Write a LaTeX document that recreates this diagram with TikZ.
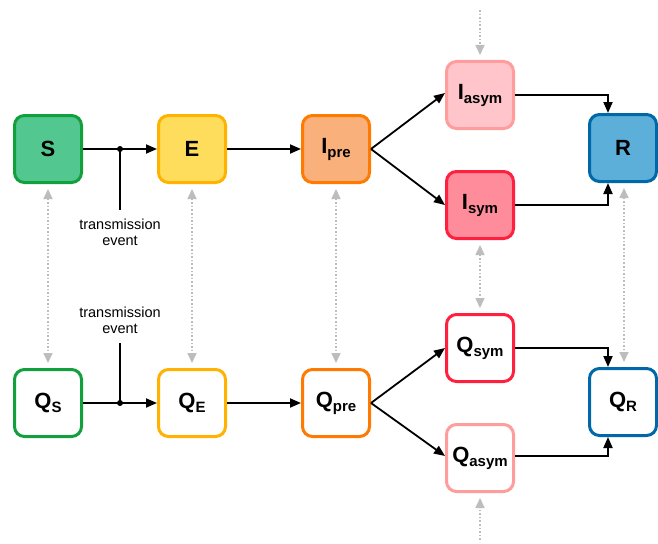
\documentclass[tikz,border=0pt]{standalone}
\usepackage{fontspec}
\setmainfont{Liberation Sans}
\usetikzlibrary{arrows.meta}
\definecolor{sfill}{HTML}{52C890}
\definecolor{sline}{HTML}{12A03C}
\definecolor{efill}{HTML}{FFDD5C}
\definecolor{eline}{HTML}{FFB300}
\definecolor{pfill}{HTML}{F9B07A}
\definecolor{pline}{HTML}{FF7A00}
\definecolor{afill}{HTML}{FFC5CA}
\definecolor{aline}{HTML}{FF9C9C}
\definecolor{yfill}{HTML}{FF8C9A}
\definecolor{yline}{HTML}{FF2040}
\definecolor{rfill}{HTML}{5BAFD9}
\definecolor{rline}{HTML}{0068A8}
\definecolor{dgray}{HTML}{BDBDBD}
\newcommand{\sub}[1]{\raisebox{-4pt}{\fontsize{15}{15}\selectfont #1}}
\tikzset{
  box/.style={draw, rounded corners=10pt, line width=3pt, minimum width=67pt, minimum height=67pt, inner sep=0pt, font=\fontsize{22}{22}\selectfont\bfseries},
  flow/.style={draw=black, line width=1.8pt, -{Triangle[length=11pt,width=9pt]}},
  plain/.style={draw=black, line width=1.8pt},
  swap/.style={draw=dgray, line width=1.6pt, dotted, {Triangle[length=10pt,width=9pt]}-{Triangle[length=10pt,width=9pt]}, shorten >=5pt, shorten <=5pt},
  oneway/.style={draw=dgray, line width=1.6pt, dotted, -{Triangle[length=10pt,width=9pt]}, shorten >=5pt},
  lbl/.style={font=\fontsize{14.5}{16}\selectfont, align=center}
}
\begin{document}
\begin{tikzpicture}[x=1pt,y=-1pt]
\useasboundingbox (0,0) rectangle (658,543);
\fill[white] (0,0) rectangle (658,543);
% top row
\node[box, draw=sline, fill=sfill] (S) at (48,149) {S};
\node[box, draw=eline, fill=efill] (E) at (192,149) {E};
\node[box, draw=pline, fill=pfill] (Ip) at (336,149) {I\sub{pre}};
\node[box, draw=aline, fill=afill] (Ia) at (480,95) {I\sub{asym}};
\node[box, draw=yline, fill=yfill] (Is) at (480,205) {I\sub{sym}};
\node[box, draw=rline, fill=rfill] (R) at (623,148) {R};
% bottom row
\node[box, draw=sline, fill=white] (QS) at (48,403) {Q\sub{S}};
\node[box, draw=eline, fill=white] (QE) at (192,403) {Q\sub{E}};
\node[box, draw=pline, fill=white] (Qp) at (336,403) {Q\sub{pre}};
\node[box, draw=yline, fill=white] (Qs) at (480,348) {Q\sub{sym}};
\node[box, draw=aline, fill=white] (Qa) at (480,458) {Q\sub{asym}};
\node[box, draw=rline, fill=white] (QR) at (623,402) {Q\sub{R}};
% transmission events
\coordinate (j1) at (120,149);
\coordinate (j1e) at (120,210);
\node[lbl] (t1) at (120,232) {transmission\\event};
\coordinate (j2) at (120,403);
\coordinate (j2e) at (120,343);
\node[lbl] (t2) at (120,320) {transmission\\event};
\draw[flow] (S) -- (E);
\draw[plain] (j1) -- (j1e);
\fill (j1) circle (3pt);
\draw[flow] (QS) -- (QE);
\draw[plain] (j2) -- (j2e);
\fill (j2) circle (3pt);
% flows
\draw[flow] (E) -- (Ip);
\draw[flow] (QE) -- (Qp);
\draw[flow] (Ip.east) -- ([yshift=2pt]Ia.west);
\draw[flow] (Ip.east) -- (Is.west);
\draw[flow] (Qp.east) -- (Qs.west);
\draw[flow] (Qp.east) -- ([yshift=2pt]Qa.west);
\draw[flow] (Ia.east) -| ([xshift=-15pt]R.north);
\draw[flow] (Is.east) -| ([xshift=-15pt]R.south);
\draw[flow] (Qs.east) -| ([xshift=-15pt]QR.north);
\draw[flow] ([yshift=2pt]Qa.east) -| ([xshift=-15pt]QR.south);
% quarantine swaps
\draw[swap] (S) -- (QS);
\draw[swap] (E) -- (QE);
\draw[swap] (Ip) -- (Qp);
\draw[swap] (Is) -- (Qs);
\draw[swap] ([xshift=1pt]R.south) -- ([xshift=1pt]QR.north);
\coordinate (topin) at (480,10);
\coordinate (botin) at (480,540);
\draw[oneway] (topin) -- (Ia);
\draw[oneway] (botin) -- (Qa);
\end{tikzpicture}
\end{document}
